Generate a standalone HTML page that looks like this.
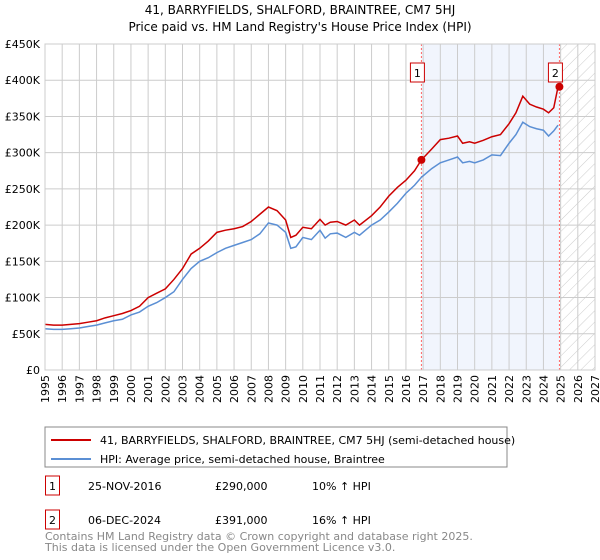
<!DOCTYPE html>
<html><head><meta charset="utf-8"><style>
body{margin:0;background:#fff;font-family:"Liberation Sans","DejaVu Sans",sans-serif;}
svg text{font-family:"DejaVu Sans","Liberation Sans",sans-serif;}
</style></head><body>
<svg id="c" width="600" height="560" viewBox="0 0 600 560" xmlns="http://www.w3.org/2000/svg" style="position:absolute;left:0;top:0">
<defs><pattern id="hatch" width="8" height="8" patternUnits="userSpaceOnUse" patternTransform="rotate(45)"><line x1="0" y1="0" x2="0" y2="8" stroke="#ccc" stroke-width="1"/></pattern></defs>
<text x="300" y="14" text-anchor="middle" font-size="12">41, BARRYFIELDS, SHALFORD, BRAINTREE, CM7 5HJ</text>
<text x="300" y="31" text-anchor="middle" font-size="12">Price paid vs. HM Land Registry's House Price Index (HPI)</text>
<g id="plot"></g>
<rect x="45" y="427" width="462" height="40" fill="#fff" stroke="#888"/>
<line x1="51" y1="440" x2="91" y2="440" stroke="#cc0000" stroke-width="2"/>
<text x="100" y="444" font-size="11">41, BARRYFIELDS, SHALFORD, BRAINTREE, CM7 5HJ (semi-detached house)</text>
<line x1="51" y1="459" x2="91" y2="459" stroke="#5b8fd4" stroke-width="2"/>
<text x="100" y="463" font-size="11">HPI: Average price, semi-detached house, Braintree</text>
<g font-size="11">
<rect x="45.5" y="476" width="14" height="19" fill="#fff" stroke="#cc0000"/>
<text x="52.5" y="490" text-anchor="middle">1</text>
<text x="88" y="490">25-NOV-2016</text>
<text x="215" y="490">£290,000</text>
<text x="312" y="490">10% ↑ HPI</text>
<rect x="45.5" y="510" width="14" height="19" fill="#fff" stroke="#cc0000"/>
<text x="52.5" y="524" text-anchor="middle">2</text>
<text x="88" y="524">06-DEC-2024</text>
<text x="215" y="524">£391,000</text>
<text x="312" y="524">16% ↑ HPI</text>
</g>
</svg>
<div style="position:absolute;left:45px;top:531px;font-size:11px;color:#888;line-height:11px;font-family:'DejaVu Sans','Liberation Sans',sans-serif">Contains HM Land Registry data © Crown copyright and database right 2025.<br>This data is licensed under the Open Government Licence v3.0.</div>
<script>
const years=[1995,1995.5,1996,1996.5,1997,1997.5,1998,1998.5,1999,1999.5,2000,2000.5,2001,2001.5,2002,2002.5,2003,2003.5,2004,2004.5,2005,2005.5,2006,2006.5,2007,2007.5,2008,2008.5,2009,2009.3,2009.6,2010,2010.5,2011,2011.3,2011.6,2012,2012.5,2013,2013.3,2014,2014.5,2015,2015.5,2016,2016.5,2016.9,2017.5,2018,2018.5,2019,2019.3,2019.7,2020,2020.5,2021,2021.5,2022,2022.4,2022.8,2023.2,2023.6,2024,2024.3,2024.6,2024.85];
const hpi=[57,56,56,57,58,60,62,65,68,70,76,80,88,93,100,108,125,140,150,155,162,168,172,176,180,188,203,200,190,168,170,183,180,193,182,188,189,183,190,186,200,207,218,230,244,255,266,278,286,290,294,286,288,286,290,297,296,313,325,342,336,333,331,323,330,338];
const price=[63,62,62,63,64,66,68,72,75,78,82,88,100,106,112,125,140,160,168,178,190,193,195,198,205,215,225,220,207,183,186,197,195,208,200,204,205,200,207,200,213,225,240,252,262,275,290,305,318,320,323,313,315,313,317,322,325,340,355,378,367,363,360,355,362,391];
const sales=[[2016.9,290],[2024.93,391]];
const xTicks=[1995,1996,1997,1998,1999,2000,2001,2002,2003,2004,2005,2006,2007,2008,2009,2010,2011,2012,2013,2014,2015,2016,2017,2018,2019,2020,2021,2022,2023,2024,2025,2026,2027];
const yTicks=[0,50,100,150,200,250,300,350,400,450];
const yLabels=["£0","£50K","£100K","£150K","£200K","£250K","£300K","£350K","£400K","£450K"];
const X=y=>45+(y-1995)*550/32, Y=v=>370-v*326/450;
const NS="http://www.w3.org/2000/svg", g=document.getElementById('plot');
function mk(t,a){const e=document.createElementNS(NS,t);for(const k in a)e.setAttribute(k,a[k]);g.appendChild(e);return e;}
let e;
e=mk('rect',{x:X(sales[0][0]),y:44,width:X(sales[1][0])-X(sales[0][0]),height:326,fill:'#eef2fc',opacity:0.8});


e=mk('rect',{x:X(2025),y:44,width:X(2027)-X(2025),height:326,fill:'url(#hatch)'});


xTicks.forEach(t=>{e=mk('line',{x1:X(t),x2:X(t),y1:44,y2:370,stroke:'#ccc','stroke-width':1});


e=mk('text',{x:0,y:0,'font-size':11,'text-anchor':'end',transform:`translate(${X(t)+4},375) rotate(-90)`});e.textContent=t;

});
yTicks.forEach((t,i)=>{e=mk('line',{x1:45,x2:595,y1:Y(t),y2:Y(t),stroke:'#ccc','stroke-width':1});


e=mk('text',{x:40,y:Y(t)+4,'font-size':11,'text-anchor':'end'});e.textContent=yLabels[i];

});
sales.forEach((s,i)=>{e=mk('line',{x1:X(s[0]),x2:X(s[0]),y1:44,y2:370,stroke:'#ff6666','stroke-dasharray':'2,2'});

});
e=mk('path',{d:years.map((y,i)=>(i?'L':'M')+X(y)+','+Y(hpi[i])).join(''),fill:'none',stroke:'#5b8fd4','stroke-width':1.5});


e=mk('path',{d:years.map((y,i)=>(i?'L':'M')+X(y)+','+Y(price[i])).join(''),fill:'none',stroke:'#cc0000','stroke-width':1.5});


sales.forEach((s,i)=>{e=mk('circle',{cx:X(s[0]),cy:Y(s[1]),r:4,fill:'#cc0000'});


e=mk('rect',{x:X(s[0])-11,y:63,width:14,height:19,fill:'#fff',stroke:'#cc0000'});


e=mk('text',{x:X(s[0])-4,y:77,'font-size':11,'text-anchor':'middle'});e.textContent=i+1;

});
e=mk('rect',{x:45,y:44,width:550,height:326,fill:'none',stroke:'#ccc'});


</script>
</body></html>
